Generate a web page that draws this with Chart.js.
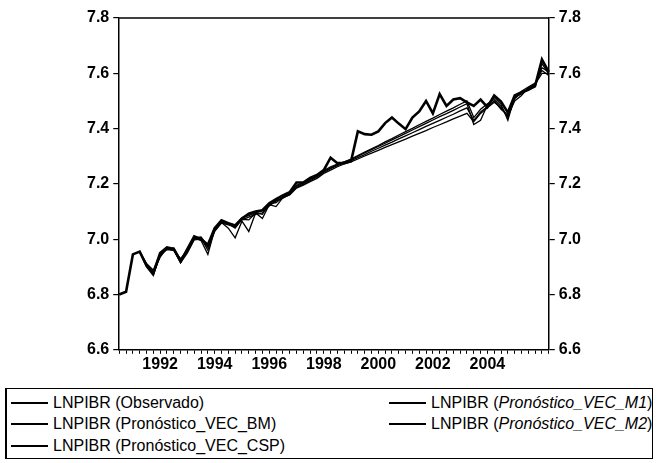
<!DOCTYPE html>
<html>
<head>
<meta charset="utf-8">
<script src="https://cdn.jsdelivr.net/npm/chart.js@4.4.1/dist/chart.umd.min.js"></script>
<style>
  body { margin: 0; background: #fff; }
  #wrap { position: relative; width: 657px; height: 463px; }
  #chart { position: absolute; left: 0; top: 0; }
  #legend {
    position: absolute; left: 5px; top: 388px; width: 648px; height: 71px;
    border: 1px solid #000; border-left-width: 2px; box-sizing: border-box;
    display: grid; grid-template-columns: 378px auto; grid-auto-rows: 21.5px;
    padding-top: 3px;
    font-family: "Liberation Sans", Arial, sans-serif; font-size: 16px; color: #000;
  }
  .item { display: flex; align-items: center; white-space: nowrap; }
  .swatch { display: inline-block; width: 37px; height: 0; border-top: 2px solid #000; margin: 0 5px 0 4px; }
</style>
</head>
<body>
<div id="wrap">
  <canvas id="chart" width="657" height="385"></canvas>
  <div id="legend"></div>
</div>
<script>
// quarters 1990Q3 .. 2006Q2
const quarters = [];
for (let y = 1990; y <= 2006; y++) {
  for (let q = 1; q <= 4; q++) {
    if (y === 1990 && q < 3) continue;
    if (y === 2006 && q > 2) break;
    quarters.push(y + "Q" + q);
  }
}

const observado = [
  6.800, 6.810, 6.945, 6.955, 6.905, 6.878, 6.950, 6.970, 6.965, 6.920,
  6.965, 7.010, 7.000, 6.980, 7.040, 7.068, 7.058, 7.050, 7.075, 7.092,
  7.100, 7.105, 7.130, 7.145, 7.158, 7.170, 7.205, 7.205, 7.222, 7.232,
  7.250, 7.295, 7.275, 7.275, 7.282, 7.390, 7.380, 7.378, 7.390, 7.420,
  7.440, 7.418, 7.398, 7.440, 7.462, 7.500, 7.455, 7.525, 7.482, 7.505,
  7.510, 7.495, 7.482, 7.505, 7.478, 7.520, 7.498, 7.458, 7.520, 7.532,
  7.540, 7.555, 7.650, 7.605
];

const vecM1 = [
  null, null, null, 6.955, 6.900, 6.868, 6.945, 6.965, 6.960, 6.915,
  6.960, 7.005, 6.995, 6.945, 7.035, 7.060, 7.040, 7.005, 7.065, 7.028,
  7.095, 7.075, 7.125, 7.118, 7.150, 7.165, 7.195, 7.205, 7.218, 7.230,
  7.248, 7.262, 7.272, 7.280, 7.288, 7.300, 7.312, 7.324, 7.336, 7.347,
  7.359, 7.371, 7.383, 7.395, 7.407, 7.419, 7.431, 7.443, 7.454, 7.466,
  7.478, 7.490, 7.415, 7.430, 7.485, 7.512, 7.488, 7.430, 7.515, 7.525,
  7.540, 7.550, 7.635, 7.598
];

const vecBM = [
  null, null, null, 6.955, 6.910, 6.872, 6.940, 6.965, 6.968, 6.925,
  6.955, 7.000, 7.005, 6.960, 7.030, 7.062, 7.055, 7.040, 7.072, 7.070,
  7.095, 7.090, 7.128, 7.132, 7.152, 7.166, 7.192, 7.202, 7.216, 7.228,
  7.245, 7.258, 7.270, 7.280, 7.290, 7.302, 7.315, 7.327, 7.339, 7.352,
  7.364, 7.377, 7.389, 7.401, 7.414, 7.426, 7.438, 7.451, 7.463, 7.475,
  7.488, 7.500, 7.440, 7.470, 7.490, 7.505, 7.480, 7.440, 7.510, 7.528,
  7.545, 7.560, 7.620, 7.605
];

const vecM2 = [
  null, null, null, 6.955, 6.905, 6.880, 6.935, 6.968, 6.962, 6.915,
  6.950, 6.998, 7.000, 6.970, 7.028, 7.058, 7.052, 7.045, 7.070, 7.080,
  7.090, 7.095, 7.122, 7.138, 7.148, 7.162, 7.188, 7.198, 7.212, 7.225,
  7.242, 7.255, 7.266, 7.276, 7.284, 7.295, 7.306, 7.318, 7.329, 7.340,
  7.351, 7.363, 7.374, 7.385, 7.396, 7.408, 7.419, 7.430, 7.441, 7.452,
  7.464, 7.475, 7.430, 7.460, 7.480, 7.500, 7.470, 7.448, 7.508, 7.535,
  7.550, 7.565, 7.610, 7.592
];

const vecCSP = [
  null, null, null, 6.955, 6.912, 6.888, 6.945, 6.962, 6.960, 6.930,
  6.960, 7.005, 7.008, 6.975, 7.042, 7.060, 7.058, 7.050, 7.078, 7.085,
  7.095, 7.102, 7.120, 7.140, 7.150, 7.160, 7.185, 7.195, 7.208, 7.220,
  7.238, 7.250, 7.262, 7.272, 7.280, 7.290, 7.301, 7.311, 7.321, 7.332,
  7.342, 7.352, 7.362, 7.373, 7.383, 7.393, 7.404, 7.414, 7.424, 7.435,
  7.445, 7.455, 7.425, 7.455, 7.475, 7.495, 7.475, 7.445, 7.500, 7.520,
  7.548, 7.560, 7.600, 7.600
];

const yTicks = [6.6, 6.8, 7.0, 7.2, 7.4, 7.6, 7.8];

// legend is filled row by row in two columns
const series = [
  { name: "LNPIBR", tag: "Observado", italic: false, data: observado, width: 2.6 },
  { name: "LNPIBR", tag: "Pronóstico_VEC_M1", italic: true, data: vecM1, width: 1.3 },
  { name: "LNPIBR", tag: "Pronóstico_VEC_BM", italic: false, data: vecBM, width: 1.3 },
  { name: "LNPIBR", tag: "Pronóstico_VEC_M2", italic: true, data: vecM2, width: 1.3 },
  { name: "LNPIBR", tag: "Pronóstico_VEC_CSP", italic: false, data: vecCSP, width: 1.3 },
];

const tickFont = { family: "'Liberation Sans', Arial, sans-serif", size: 16, weight: "bold" };

const frame = {
  id: "frame",
  afterDraw: (chart) => {
    const { ctx, chartArea: { left, right, top } } = chart;
    ctx.save();
    ctx.strokeStyle = "#000";
    ctx.lineWidth = 1.5;
    ctx.beginPath();
    ctx.moveTo(left, top);
    ctx.lineTo(right, top);
    ctx.stroke();
    ctx.restore();
  },
};

const yAxis = (pos) => ({
  type: "linear",
  position: pos,
  min: 6.6,
  max: 7.8,
  afterBuildTicks: (scale) => {
    scale.ticks = yTicks.map((v) => ({ value: v }));
  },
  ticks: {
    color: "#000",
    font: tickFont,
    padding: 4,
    autoSkip: false,
    callback: (v) => v.toFixed(1),
  },
  grid: { drawOnChartArea: false, drawTicks: true, tickLength: 6, color: "#000", lineWidth: 1.2 },
  border: { display: true, color: "#000", width: 1.5 },
});

new Chart(document.getElementById("chart"), {
  type: "line",
  data: {
    labels: quarters,
    datasets: series.map((s) => ({
      label: s.name + " (" + s.tag + ")",
      data: s.data,
      borderColor: "#000",
      borderWidth: s.width,
      pointRadius: 0,
      tension: 0,
      fill: false,
      yAxisID: "y",
    })),
  },
  options: {
    responsive: false,
    animation: false,
    layout: { padding: { left: 83, right: 72, top: 18, bottom: 10 } },
    plugins: { legend: { display: false }, tooltip: { enabled: false } },
    scales: {
      x: {
        type: "category",
        offset: false,
        ticks: {
          color: "#000",
          font: tickFont,
          autoSkip: false,
          maxRotation: 0,
          padding: 1,
          callback: function (val, idx) {
            const lab = quarters[idx];
            const yr = parseInt(lab.slice(0, 4));
            return lab.endsWith("Q1") && yr % 2 === 0 && yr <= 2004 ? String(yr) : "";
          },
        },
        grid: { drawOnChartArea: false, drawTicks: true, tickLength: 4, color: "#000", lineWidth: 1 },
        border: { display: true, color: "#000", width: 1.5 },
      },
      y: yAxis("left"),
      y1: yAxis("right"),
    },
  },
  plugins: [frame],
});

// HTML legend
const legendEl = document.getElementById("legend");
series.forEach((s) => {
  const item = document.createElement("div");
  item.className = "item";
  const sw = document.createElement("span");
  sw.className = "swatch";
  item.appendChild(sw);
  const txt = document.createElement("span");
  txt.appendChild(document.createTextNode(s.name + " ("));
  const tag = document.createElement("span");
  tag.textContent = s.tag;
  if (s.italic) tag.style.fontStyle = "italic";
  txt.appendChild(tag);
  txt.appendChild(document.createTextNode(")"));
  item.appendChild(txt);
  legendEl.appendChild(item);
});
</script>
</body>
</html>
